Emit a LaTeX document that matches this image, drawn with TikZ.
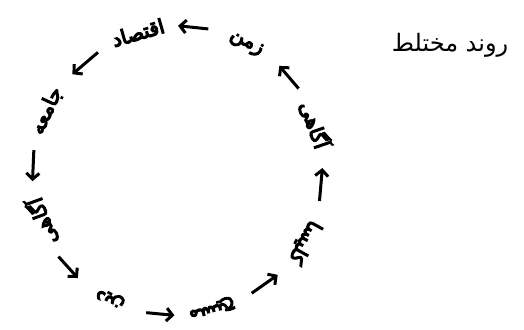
\documentclass[tikz,border=0pt]{standalone}
\usepackage{fontspec}
\newfontfamily\arabicfont[Script=Arabic]{DejaVu Sans}
\newfontfamily\arabicbold[Script=Arabic, FakeBold=6]{DejaVu Sans}
\TeXXeTstate=1
\usetikzlibrary{arrows.meta, calc}

\begin{document}
\begin{tikzpicture}[x=1pt, y=1pt,
					word/.style={font=\arabicbold\fontsize{20}{24}\selectfont, inner sep=0pt},
					title/.style={font=\arabicfont\fontsize{24}{28}\selectfont, inner sep=1pt},
					cyclearrow/.style={-{Straight Barb[length=6pt, width=13pt]}, line width=3pt, black}]
					\useasboundingbox (0,0) rectangle (524,329);
					\coordinate (mid) at (178,157);
					% words round the circle
					\node[word, rotate=-71] (agahiR) at ($(mid)+(19:145)$) {\beginR آگاهی\endR};
					\node[word, rotate=-28] (zaman) at ($(mid)+(62:145)$) {\beginR زمن\endR};
					\node[word, rotate=16] (eqtesad) at ($(mid)+(106:145)$) {\beginR اقتصاد\endR};
					\node[word, rotate=65] (jameeh) at ($(mid)+(155:145)$) {\beginR جامعه\endR};
					\node[word, rotate=110] (agahiL) at ($(mid)+(200:145)$) {\beginR آگاهی\endR};
					\node[word, rotate=152] (din) at ($(mid)+(242:143)$) {\beginR دین\endR};
					\node[word, rotate=194] (masih) at ($(mid)+(284:140)$) {\beginR مسیح\endR};
					\node[word, rotate=241] (kelisa) at ($(mid)+(331:145)$) {\beginR کلیسا\endR};
					\node[title] (ravand) at (450,284) {\beginR روند مختلط\endR};
					% arrows between the words
					\draw[cyclearrow] ($(agahiR)!0.36!(zaman)!11pt!-90:(zaman)$) -- ($(agahiR)!0.64!(zaman)!11pt!-90:(zaman)$);
					\draw[cyclearrow] ($(zaman)!0.36!(eqtesad)!11pt!-90:(eqtesad)$) -- ($(zaman)!0.64!(eqtesad)!11pt!-90:(eqtesad)$);
					\draw[cyclearrow] ($(eqtesad)!0.36!(jameeh)!11pt!-90:(jameeh)$) -- ($(eqtesad)!0.64!(jameeh)!11pt!-90:(jameeh)$);
					\draw[cyclearrow] ($(jameeh)!0.36!(agahiL)!11pt!-90:(agahiL)$) -- ($(jameeh)!0.64!(agahiL)!11pt!-90:(agahiL)$);
					\draw[cyclearrow] ($(agahiL)!0.36!(din)!11pt!-90:(din)$) -- ($(agahiL)!0.64!(din)!11pt!-90:(din)$);
					\draw[cyclearrow] ($(din)!0.36!(masih)!11pt!-90:(masih)$) -- ($(din)!0.64!(masih)!11pt!-90:(masih)$);
					\draw[cyclearrow] ($(masih)!0.36!(kelisa)!11pt!-90:(kelisa)$) -- ($(masih)!0.64!(kelisa)!11pt!-90:(kelisa)$);
					\draw[cyclearrow] ($(kelisa)!0.36!(agahiR)!11pt!-90:(agahiR)$) -- ($(kelisa)!0.64!(agahiR)!11pt!-90:(agahiR)$);
				\end{tikzpicture}
\end{document}
